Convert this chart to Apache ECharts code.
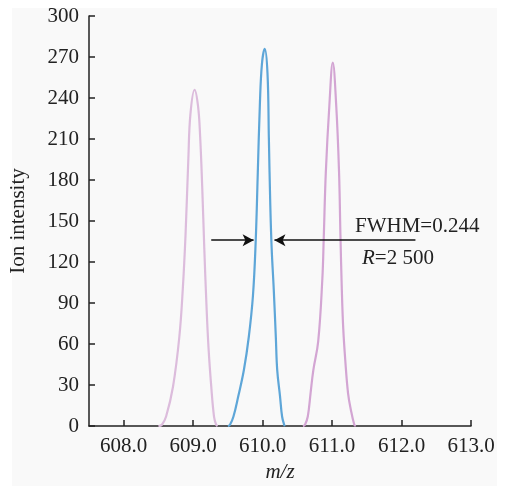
<!DOCTYPE html>
<html>
<head>
<meta charset="utf-8">
<script src="https://cdn.jsdelivr.net/npm/echarts@6/dist/echarts.min.js"></script>
<style>html,body{margin:0;padding:0;background:#fff;}#c{width:512px;height:488px;}</style>
</head>
<body>
<div id="c"></div>
<script>
// tick labels
const xTicks = [608, 609, 610, 611, 612, 613];
const yTicks = [0, 30, 60, 90, 120, 150, 180, 210, 240, 270, 300];
// peak 1 (m/z 609)
const peakLeft = [[608.50,0],[608.55,1],[608.61,7],[608.71,29],[608.80,65],[608.85,100],[608.89,140],[608.93,195],[608.96,228],[609.02,246],[609.07,234],[609.10,212],[609.13,175],[609.16,130],[609.19,90],[609.22,58],[609.26,29],[609.30,7],[609.33,1],[609.35,0]];
// peak 2 (m/z 610)
const peakCenter = [[609.50,0],[609.53,1],[609.58,7],[609.65,22],[609.73,41],[609.80,65],[609.86,95],[609.90,135],[609.93,185],[609.96,235],[609.99,265],[610.03,276],[610.07,258],[610.09,210],[610.11,162],[610.13,130],[610.16,100],[610.19,65],[610.21,41],[610.25,22],[610.28,7],[610.31,1],[610.32,0]];
// peak 3 (m/z 611)
const peakRight = [[610.58,0],[610.61,1],[610.65,7],[610.69,24],[610.73,41],[610.80,62],[610.86,108],[610.88,138],[610.91,186],[610.96,234],[611.01,266],[611.06,234],[611.10,186],[611.12,140],[611.14,100],[611.16,72],[611.19,48],[611.23,24],[611.27,12],[611.32,1],[611.34,0]];
// FWHM arrows
const arrowY = 136;
const leftArrow = [609.26, 609.87];
const rightArrow = [612.2, 610.17];
const fwhmText = 'FWHM=0.244';
const resText = '2 500';

const serif = '"Liberation Serif", "DejaVu Serif", serif';
const chart = echarts.init(document.getElementById('c'));
chart.setOption({
  backgroundColor: '#fff',
  animation: false,
  textStyle: { fontFamily: serif },
  graphic: [
    { type: 'rect', z: -10, shape: { x: 12, y: 8, width: 485, height: 478 }, style: { fill: '#f9f9f9' } },
    { type: 'text', left: 355, top: 216, style: { text: fwhmText, font: '21px ' + serif, fill: '#222' } },
    { type: 'text', left: 362, top: 248, style: {
        text: '{i|R}{n|=' + resText + '}',
        rich: { i: { fontStyle: 'italic', fontSize: 21, fontFamily: serif, fill: '#222' }, n: { fontSize: 21, fontFamily: serif, fill: '#222' } }
      } }
  ],
  grid: { left: 88, top: 16, right: 41, bottom: 58 },
  xAxis: {
    type: 'value', min: 607.5, max: 613,
    name: 'm/z', nameLocation: 'middle', nameGap: 34,
    nameTextStyle: { fontStyle: 'italic', fontSize: 21, color: '#222', fontFamily: serif },
    axisLine: { show: true, onZero: false, lineStyle: { color: '#222', width: 1.5 } },
    axisTick: { show: true, inside: true, length: 6, customValues: xTicks, lineStyle: { color: '#222', width: 1.5 } },
    axisLabel: { customValues: xTicks, fontSize: 21, color: '#222', fontFamily: serif, margin: 10, formatter: v => v.toFixed(1) },
    splitLine: { show: false }
  },
  yAxis: {
    type: 'value', min: 0, max: 300, interval: 30,
    name: 'Ion intensity', nameLocation: 'middle', nameGap: 60,
    nameTextStyle: { fontSize: 21, color: '#222', fontFamily: serif },
    axisLine: { show: true, lineStyle: { color: '#222', width: 1.5 } },
    axisTick: { show: true, inside: true, length: 6, lineStyle: { color: '#222', width: 1.5 } },
    axisLabel: { fontSize: 21, color: '#222', fontFamily: serif, margin: 10, customValues: yTicks },
    splitLine: { show: false }
  },
  series: [
    { type: 'line', data: peakLeft, showSymbol: false, smooth: 0.4,
      lineStyle: { color: '#dcbcdc', width: 2.2 } },
    { type: 'line', data: peakRight, showSymbol: false, smooth: 0.4,
      lineStyle: { color: '#d3a5d3', width: 2.2 } },
    { type: 'line', data: peakCenter, showSymbol: false, smooth: 0.4,
      lineStyle: { color: '#5ea6d8', width: 2.2 },
      markLine: {
        silent: true, symbol: ['none', 'arrow'], symbolSize: [9, 11],
        label: { show: false },
        lineStyle: { color: '#111', width: 1.5, type: 'solid' },
        data: [
          [{ coord: [leftArrow[0], arrowY] }, { coord: [leftArrow[1], arrowY] }],
          [{ coord: [rightArrow[0], arrowY] }, { coord: [rightArrow[1], arrowY] }]
        ]
      } }
  ]
});
</script>
</body>
</html>
